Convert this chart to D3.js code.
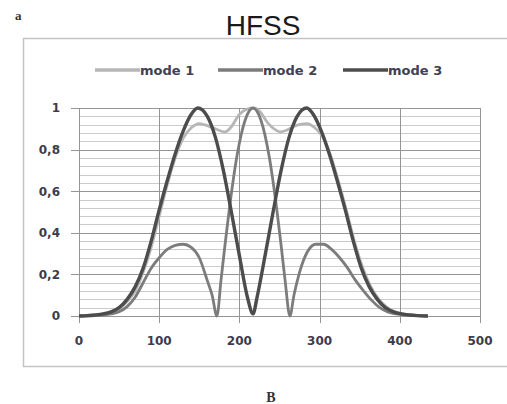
<!DOCTYPE html>
<meta charset="utf-8">
<title>HFSS</title>
<style>
body { margin: 0; background: #fff; }
svg text { font-family: "DejaVu Sans", sans-serif; }
</style>
<body>
<div id="chart"></div>
<script src="https://d3js.org/d3.v7.min.js"></script>
<script>

// values
var seriesNames = ["mode 1", "mode 2", "mode 3"];

var mode1X = [0, 20, 40, 50, 60, 70, 80, 90, 100, 110, 120, 130, 140, 150, 160, 170, 182, 190, 200, 210, 217, 225, 235, 245, 251, 260, 270, 284, 294, 304, 314, 324, 334, 344, 354, 364, 374, 384, 394, 404, 420, 435];
var mode1Y = [0, 0.004, 0.018, 0.035, 0.07, 0.12, 0.21, 0.33, 0.48, 0.63, 0.76, 0.855, 0.905, 0.925, 0.915, 0.9, 0.885, 0.91, 0.97, 0.995, 1, 0.985, 0.93, 0.895, 0.885, 0.895, 0.915, 0.925, 0.905, 0.86, 0.77, 0.64, 0.5, 0.35, 0.23, 0.14, 0.08, 0.042, 0.02, 0.01, 0.003, 0];

var mode2X = [0, 20, 40, 50, 60, 70, 80, 90, 100, 110, 120, 130, 140, 150, 160, 166, 172, 177, 182, 187, 197, 207, 217, 227, 237, 247, 252, 257, 263, 268, 275, 285, 295, 305, 315, 325, 335, 345, 355, 365, 375, 385, 395, 410, 435];
var mode2Y = [0, 0.002, 0.01, 0.02, 0.045, 0.09, 0.16, 0.23, 0.28, 0.32, 0.34, 0.345, 0.33, 0.28, 0.17, 0.1, 0, 0.17, 0.34, 0.5, 0.77, 0.94, 1, 0.94, 0.77, 0.5, 0.34, 0.17, 0, 0.1, 0.21, 0.31, 0.345, 0.345, 0.32, 0.28, 0.23, 0.17, 0.12, 0.075, 0.04, 0.02, 0.01, 0.004, 0];

var mode3X = [0, 10, 20, 30, 40, 50, 60, 70, 80, 90, 100, 110, 120, 130, 140, 148, 160, 170, 180, 190, 200, 210, 217, 222, 232, 242, 252, 262, 272, 284, 292, 302, 312, 322, 332, 342, 352, 362, 372, 382, 392, 402, 412, 422, 435];
var mode3Y = [0, 0.002, 0.005, 0.01, 0.02, 0.04, 0.08, 0.14, 0.23, 0.36, 0.51, 0.65, 0.78, 0.89, 0.97, 1, 0.96, 0.86, 0.7, 0.5, 0.29, 0.09, 0.01, 0.09, 0.29, 0.5, 0.7, 0.86, 0.96, 1, 0.97, 0.89, 0.78, 0.65, 0.51, 0.36, 0.23, 0.14, 0.08, 0.04, 0.02, 0.01, 0.005, 0.002, 0];

var xTicks = [0, 100, 200, 300, 400, 500];
var yTicks = [0, 0.2, 0.4, 0.6, 0.8, 1];
var yLabels = ["0", "0,2", "0,4", "0,6", "0,8", "1"];

var colors = ["#b6b6b6", "#7c7c7c", "#4c4c4c"];
var widths = [2.8, 2.8, 3.4];

var W = 507, H = 404;
var margin = {top: 108, right: 27, bottom: 88, left: 79},
    width = W - margin.left - margin.right,
    height = H - margin.top - margin.bottom;

var svg = d3.select("#chart").append("svg")
    .attr("width", W)
    .attr("height", H);

// outer chart frame
svg.append("rect")
    .attr("x", 23.5).attr("y", 38.5)
    .attr("width", 520).attr("height", 328)
    .attr("fill", "none")
    .attr("stroke", "#c4c4c4")
    .attr("stroke-width", 1.5);

svg.append("text")
    .attr("x", 263).attr("y", 35)
    .attr("text-anchor", "middle")
    .style("font-family", "'Liberation Sans', sans-serif")
    .style("font-size", "28px")
    .attr("fill", "#1a1a1a")
    .text("HFSS");

svg.append("text")
    .attr("x", 15).attr("y", 20)
    .style("font-family", "'Liberation Serif', serif")
    .style("font-size", "13px")
    .style("font-weight", "bold")
    .attr("fill", "#333")
    .text("a");

svg.append("text")
    .attr("x", 271).attr("y", 402)
    .attr("text-anchor", "middle")
    .style("font-family", "'Liberation Serif', serif")
    .style("font-size", "14px")
    .style("font-weight", "bold")
    .attr("fill", "#333")
    .text("B");

var g = svg.append("g")
    .attr("transform", "translate(" + margin.left + "," + margin.top + ")");

var x = d3.scaleLinear().domain([0, 500]).range([0, width]);
var y = d3.scaleLinear().domain([0, 1]).range([height, 0]);

// minor horizontal gridlines every 0.04
var minor = d3.range(0, 1.0001, 0.04).filter(function(v) {
  return Math.abs(v * 5 - Math.round(v * 5)) > 0.001;
});
g.selectAll(".minor")
  .data(minor)
  .enter().append("line")
    .attr("x1", 0).attr("x2", width)
    .attr("y1", function(d) { return Math.round(y(d)) + 0.5; })
    .attr("y2", function(d) { return Math.round(y(d)) + 0.5; })
    .attr("stroke", "#cbcbcb");

// major horizontal gridlines (with outward ticks)
g.selectAll(".major")
  .data(yTicks)
  .enter().append("line")
    .attr("x1", -8).attr("x2", width)
    .attr("y1", function(d) { return Math.round(y(d)) + 0.5; })
    .attr("y2", function(d) { return Math.round(y(d)) + 0.5; })
    .attr("stroke", "#959595");

// vertical gridlines (with outward ticks)
g.selectAll(".vgrid")
  .data(xTicks)
  .enter().append("line")
    .attr("x1", function(d) { return Math.round(x(d)) + 0.5; })
    .attr("x2", function(d) { return Math.round(x(d)) + 0.5; })
    .attr("y1", 0).attr("y2", height + 7)
    .attr("stroke", "#959595");

// y labels
g.selectAll(".ylab")
  .data(yTicks)
  .enter().append("text")
    .attr("x", -19)
    .attr("y", function(d) { return y(d); })
    .attr("dy", "0.36em")
    .attr("text-anchor", "end")
    .style("font-size", "12px")
    .style("font-weight", "bold")
    .attr("fill", "#3c3c4c")
    .text(function(d, i) { return yLabels[i]; });

// x labels
g.selectAll(".xlab")
  .data(xTicks)
  .enter().append("text")
    .attr("x", function(d) { return x(d); })
    .attr("y", height + 25)
    .attr("dy", "0.36em")
    .attr("text-anchor", "middle")
    .style("font-size", "12px")
    .style("font-weight", "bold")
    .attr("fill", "#3c3c4c")
    .text(function(d) { return d; });

var dataReady = [
  {name: seriesNames[0], xs: mode1X, ys: mode1Y},
  {name: seriesNames[1], xs: mode2X, ys: mode2Y},
  {name: seriesNames[2], xs: mode3X, ys: mode3Y}
];

var line = d3.line()
  .x(function(d) { return x(d[0]); })
  .y(function(d) { return y(d[1]); })
  .curve(d3.curveMonotoneX);

g.selectAll(".series")
  .data(dataReady)
  .enter().append("path")
    .attr("d", function(d) { return line(d3.zip(d.xs, d.ys)); })
    .attr("fill", "none")
    .attr("stroke", function(d, i) { return colors[i]; })
    .attr("stroke-width", function(d, i) { return widths[i]; })
    .attr("stroke-linejoin", "round");

// legend
var legendX = [95, 218, 343];
var legend = svg.selectAll(".legend")
  .data(dataReady)
  .enter().append("g")
    .attr("transform", function(d, i) { return "translate(" + legendX[i] + ",70)"; });
legend.append("line")
    .attr("x1", 0).attr("x2", 45)
    .attr("stroke", function(d, i) { return colors[i]; })
    .attr("stroke-width", 3.5);
legend.append("text")
    .attr("x", 45)
    .attr("dy", "0.36em")
    .style("font-size", "13px")
    .style("font-weight", "bold")
    .attr("fill", "#404052")
    .text(function(d) { return d.name; });

</script>
</body>
